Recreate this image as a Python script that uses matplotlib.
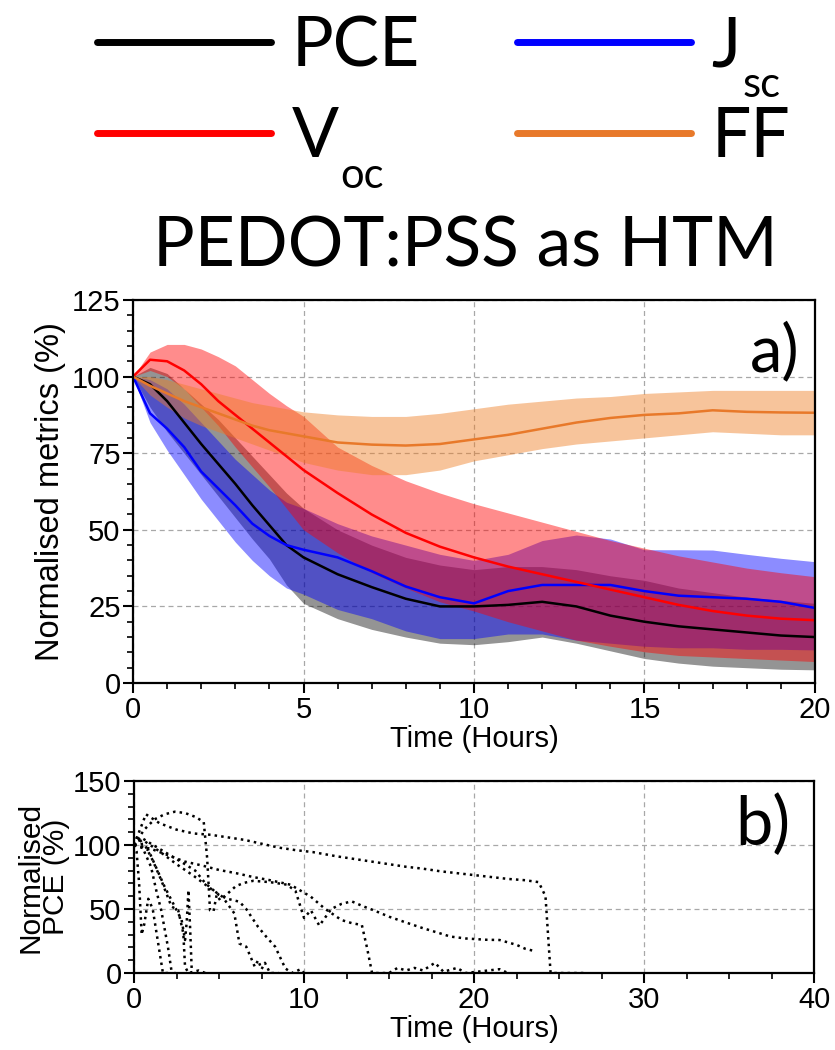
import numpy as np
import matplotlib
matplotlib.use("Agg")
import matplotlib.pyplot as plt
from matplotlib.ticker import MultipleLocator

# ---- panel a) : mean +/- spread of normalised metrics ----
hours = [0, 0.5, 1, 1.5, 2, 2.5, 3, 3.5, 4, 4.5, 5, 6, 7, 8, 9, 10,
         11, 12, 13, 14, 15, 16, 17, 18, 19, 20]

pce_mean = [100, 97.5, 92, 85, 78, 71.5, 65, 58, 51.5, 45, 41, 35.5, 31.3, 27.5, 25, 25,
            25.5, 26.5, 25, 22, 20, 18.5, 17.5, 16.5, 15.5, 15]
pce_low = [100, 90, 82, 75, 68, 61, 54, 47, 40.5, 32, 26, 21, 17.5, 15, 13, 12.5,
           13.5, 15, 13, 10.5, 8, 6.5, 5.5, 5, 4.5, 4.3]
pce_high = [100, 103, 101, 96, 91, 86, 80, 74, 68, 62, 57, 50, 45, 41, 38.5, 37,
            38, 38, 37, 35, 33.5, 31, 29.5, 28, 27, 26]

jsc_mean = [100, 88, 83, 77, 69, 63.5, 58, 52, 48, 45, 43.5, 41, 36.5, 31.5, 28, 26,
            30, 32, 32, 32, 30, 28.5, 28, 27.5, 26.5, 24.5]
jsc_low = [100, 85, 76, 68, 60, 53, 46, 40, 35, 31, 29, 24, 21, 17, 14.5, 14.5,
           16, 16, 14, 13, 12, 11.5, 11.5, 11, 11, 10.8]
jsc_high = [100, 99, 96, 91, 85, 79, 73, 68, 63, 59, 57, 52, 48, 45, 42, 40,
            42, 46.5, 48.3, 47, 43.5, 43.5, 43.4, 42, 40.7, 39.6]

voc_mean = [100, 105.5, 105, 102, 97.5, 92, 87.5, 83, 78.5, 74, 69.5, 62, 55, 49, 44.5, 41,
            38, 35.5, 33, 30.5, 28, 25.5, 23.5, 22, 21, 20.5]
voc_low = [100, 102, 100, 96, 90, 84, 77, 70.5, 64, 57, 50, 42.5, 36, 31, 26.5, 23.5,
           20, 17, 14, 12, 10.2, 9, 8.5, 8, 7.5, 7]
voc_high = [100, 108, 110.5, 110.5, 109, 106.5, 103.5, 99, 94.5, 90.5, 87, 77, 71, 66, 62, 58.5,
            55.5, 52.5, 49.5, 46.5, 44, 41.5, 39.5, 37.5, 36, 34.7]

ff_mean = [100, 97, 94.5, 92, 90, 88, 86, 84, 82.5, 81.5, 80.5, 78.5, 77.8, 77.5, 78, 79.5,
           81, 83, 85, 86.5, 87.5, 88, 89, 88.5, 88.3, 88.2]
ff_low = [100, 94, 90, 86.5, 84, 82, 80, 78, 76, 74, 72, 69.5, 68, 68, 69.5, 72.5,
          74.5, 76.5, 78, 79, 80, 81, 82, 81.5, 81, 81]
ff_high = [100, 100, 99, 97.5, 96, 94.5, 93, 91.5, 90.5, 89.5, 88.5, 87.5, 87, 87, 88, 89.5,
           91, 92, 93, 93.5, 94.5, 95, 95.5, 95.5, 95.5, 95.5]

# ---- panel b) : individual device PCE traces ----
traces = [
    ([0, 0.7, 1.5, 2.5, 3.5, 4.5, 5.5, 6.5, 7.5, 8.5, 9.5, 10.5, 12, 13, 14, 15, 16, 17, 18,
      19, 20, 21, 22, 23, 23.8, 24.2, 24.5, 25, 26.5],
     [100, 124, 117, 112, 109, 108, 106, 104, 101, 98, 96, 94.5, 91, 89, 87, 85, 83, 81.5, 79.5,
      78, 76.5, 75, 73.5, 72.5, 71, 60, 0, 0, 0]),
    ([0, 0.6, 1.2, 1.8, 2.4, 3, 3.6, 4.1, 4.3, 4.47, 4.67, 4.86, 5.06, 5.5, 6, 6.5, 7, 8, 9,
      9.5, 10, 10.4, 10.9, 11.6, 12.2, 12.8, 13.5, 14.1, 15, 16.1, 17, 18, 18.6, 19.5, 20.7,
      21.5, 22.5, 23, 23.6],
     [100, 112, 120, 124, 126, 125, 122, 118, 90, 49, 48, 61, 57, 62, 68, 70.5, 72, 71, 69,
      64, 43, 49, 37, 50, 54, 56, 52, 49, 44, 39, 35, 31, 28.5, 27, 26,
      25.8, 22, 19, 17]),
    ([0, 1, 2, 3, 4, 5, 6, 7, 8, 9.2, 10.4, 11.2, 12.2, 12.8, 13.4, 13.7, 14, 15, 15.5, 16,
      16.5, 17, 17.7, 18.2, 19, 19.5, 21.5, 22],
     [100, 97, 92, 87, 84, 80.5, 78, 75, 72.5, 69, 59.6, 50.5, 41.4, 39, 37.5, 20, 0, 0, 4, 2,
      4, 2, 8, 1, 4, 0, 3, 0]),
    ([0, 0.4, 1, 2, 3, 3.6, 4.2, 5, 5.5, 6.2, 6.6, 7.3, 7.8, 8.3, 8.9, 9.3, 9.8, 10],
     [100, 106, 101, 93, 85, 80, 70, 61, 58, 55.7, 50, 36, 28, 20.6, 3.6, 0, 3, 0]),
    ([0, 0.5, 1.5, 2.5, 3.5, 4.4, 5.2, 5.9, 6.2, 6.6, 7.1, 7.3, 7.5, 7.7, 8, 8.5],
     [100, 104, 95, 85, 76, 67, 59.6, 46.6, 23, 20.6, 5, 10, 3, 8, 0, 0]),
    ([0, 0.2, 0.6, 1, 1.3, 1.6, 2, 2.2, 2.4],
     [100, 107, 95, 83, 65, 49, 20, 2, 0]),
    ([0, 0.6, 1.1, 1.6, 2.2, 2.6, 2.9, 3.0, 3.2, 3.8, 4.2],
     [100, 101, 88, 72.6, 52, 49, 31, 5, 0, 2, 0]),
    ([0, 0.85, 1.8, 2.4, 2.8, 3.0, 3.1, 3.2, 3.3, 3.4],
     [100, 96, 67.4, 51.8, 41.4, 25.8, 40, 64.8, 35, 0]),
    ([0, 0.15, 0.3, 0.45, 0.6, 0.84, 1.1, 1.4, 1.7, 2.2],
     [100, 95, 70, 30, 38, 58, 50, 25, 0, 0]),
]

legend_labels = ["PCE", "V", "J", "FF"]
legend_subs = {"V": "oc", "J": "sc"}

tick_font = ["Liberation Sans", "DejaVu Sans"]
big_font = ["Lato", "DejaVu Sans"]
plt.rcParams["font.family"] = tick_font

fig = plt.figure(figsize=(8.35, 10.5), dpi=100)
ax = fig.add_axes([0.1593, 0.3495, 0.8167, 0.3648])
ax2 = fig.add_axes([0.1605, 0.0733, 0.8145, 0.1829])

ax.fill_between(hours, pce_low, pce_high, color="black", alpha=0.42, lw=0)
l_pce, = ax.plot(hours, pce_mean, color="black", lw=1.8)
ax.fill_between(hours, jsc_low, jsc_high, color="#0000ff", alpha=0.45, lw=0)
l_jsc, = ax.plot(hours, jsc_mean, color="#0000ff", lw=1.8)
ax.fill_between(hours, voc_low, voc_high, color="#ff0000", alpha=0.45, lw=0)
ax.fill_between(hours, ff_low, ff_high, color="#ef7d22", alpha=0.45, lw=0)
l_voc, = ax.plot(hours, voc_mean, color="#ff0000", lw=1.8)
l_ff, = ax.plot(hours, ff_mean, color="#e8792a", lw=1.8)

for t, v in traces:
    ax2.plot(t, v, color="black", lw=1.8, ls=":")


def style(a):
    for s in a.spines.values():
        s.set_linewidth(1.6)
    a.tick_params(which="major", direction="out", length=7, width=1.5,
                  labelsize=21, pad=2)
    a.tick_params(which="minor", direction="out", length=4, width=1.2)
    a.grid(which="major", ls=(0, (4, 3)), color="#a8a8a8", lw=0.9)
    a.set_axisbelow(True)


ax.set_xlim(0, 20)
ax.set_ylim(0, 125)
ax.xaxis.set_major_locator(MultipleLocator(5))
ax.xaxis.set_minor_locator(MultipleLocator(1))
ax.yaxis.set_major_locator(MultipleLocator(25))
ax.yaxis.set_minor_locator(MultipleLocator(5))
style(ax)
ax.set_xlabel("Time (Hours)", fontsize=21, labelpad=1)
ax.set_ylabel("Normalised metrics (%)", fontsize=23.5, labelpad=4)
ax.text(0.978, 0.945, "a)", transform=ax.transAxes, ha="right", va="top",
        fontsize=47, family=big_font)

ax2.set_xlim(0, 40)
ax2.set_ylim(0, 150)
ax2.xaxis.set_major_locator(MultipleLocator(10))
ax2.xaxis.set_minor_locator(MultipleLocator(2.5))
ax2.yaxis.set_major_locator(MultipleLocator(50))
ax2.yaxis.set_minor_locator(MultipleLocator(10))
style(ax2)
ax2.set_xlabel("Time (Hours)", fontsize=21, labelpad=1)
ax2.set_ylabel("Normalised\nPCE (%)", fontsize=21.5, labelpad=2, linespacing=0.9)
ax2.text(0.965, 0.93, "b)", transform=ax2.transAxes, ha="right", va="top",
         fontsize=48, family=big_font)

leg = fig.legend([l_pce, l_voc, l_jsc, l_ff], legend_labels,
                 ncol=2, loc="upper left", bbox_to_anchor=(0.083, 1.012),
                 frameon=False, prop={"family": big_font, "size": 50},
                 handlelength=2.5, handletextpad=0.3, columnspacing=1.4,
                 labelspacing=0.4, borderaxespad=0)
for h in leg.get_lines():
    h.set_linewidth(5)
    h.set_solid_capstyle("round")

# subscripts sit well below the baseline, as in the original figure
fig.canvas.draw()
W, H = fig.bbox.width, fig.bbox.height
for txt in leg.get_texts():
    sub = legend_subs.get(txt.get_text())
    if sub:
        bb = txt.get_window_extent()
        fig.text((bb.x1 + 2) / W, (bb.y0 + 12) / H, sub, ha="left", va="top",
                 fontsize=30, family=big_font)

fig.text(0.557, 0.746, "PEDOT:PSS as HTM", ha="center", va="baseline",
         fontsize=50, family=big_font)

fig.savefig("out.png", dpi=100)
